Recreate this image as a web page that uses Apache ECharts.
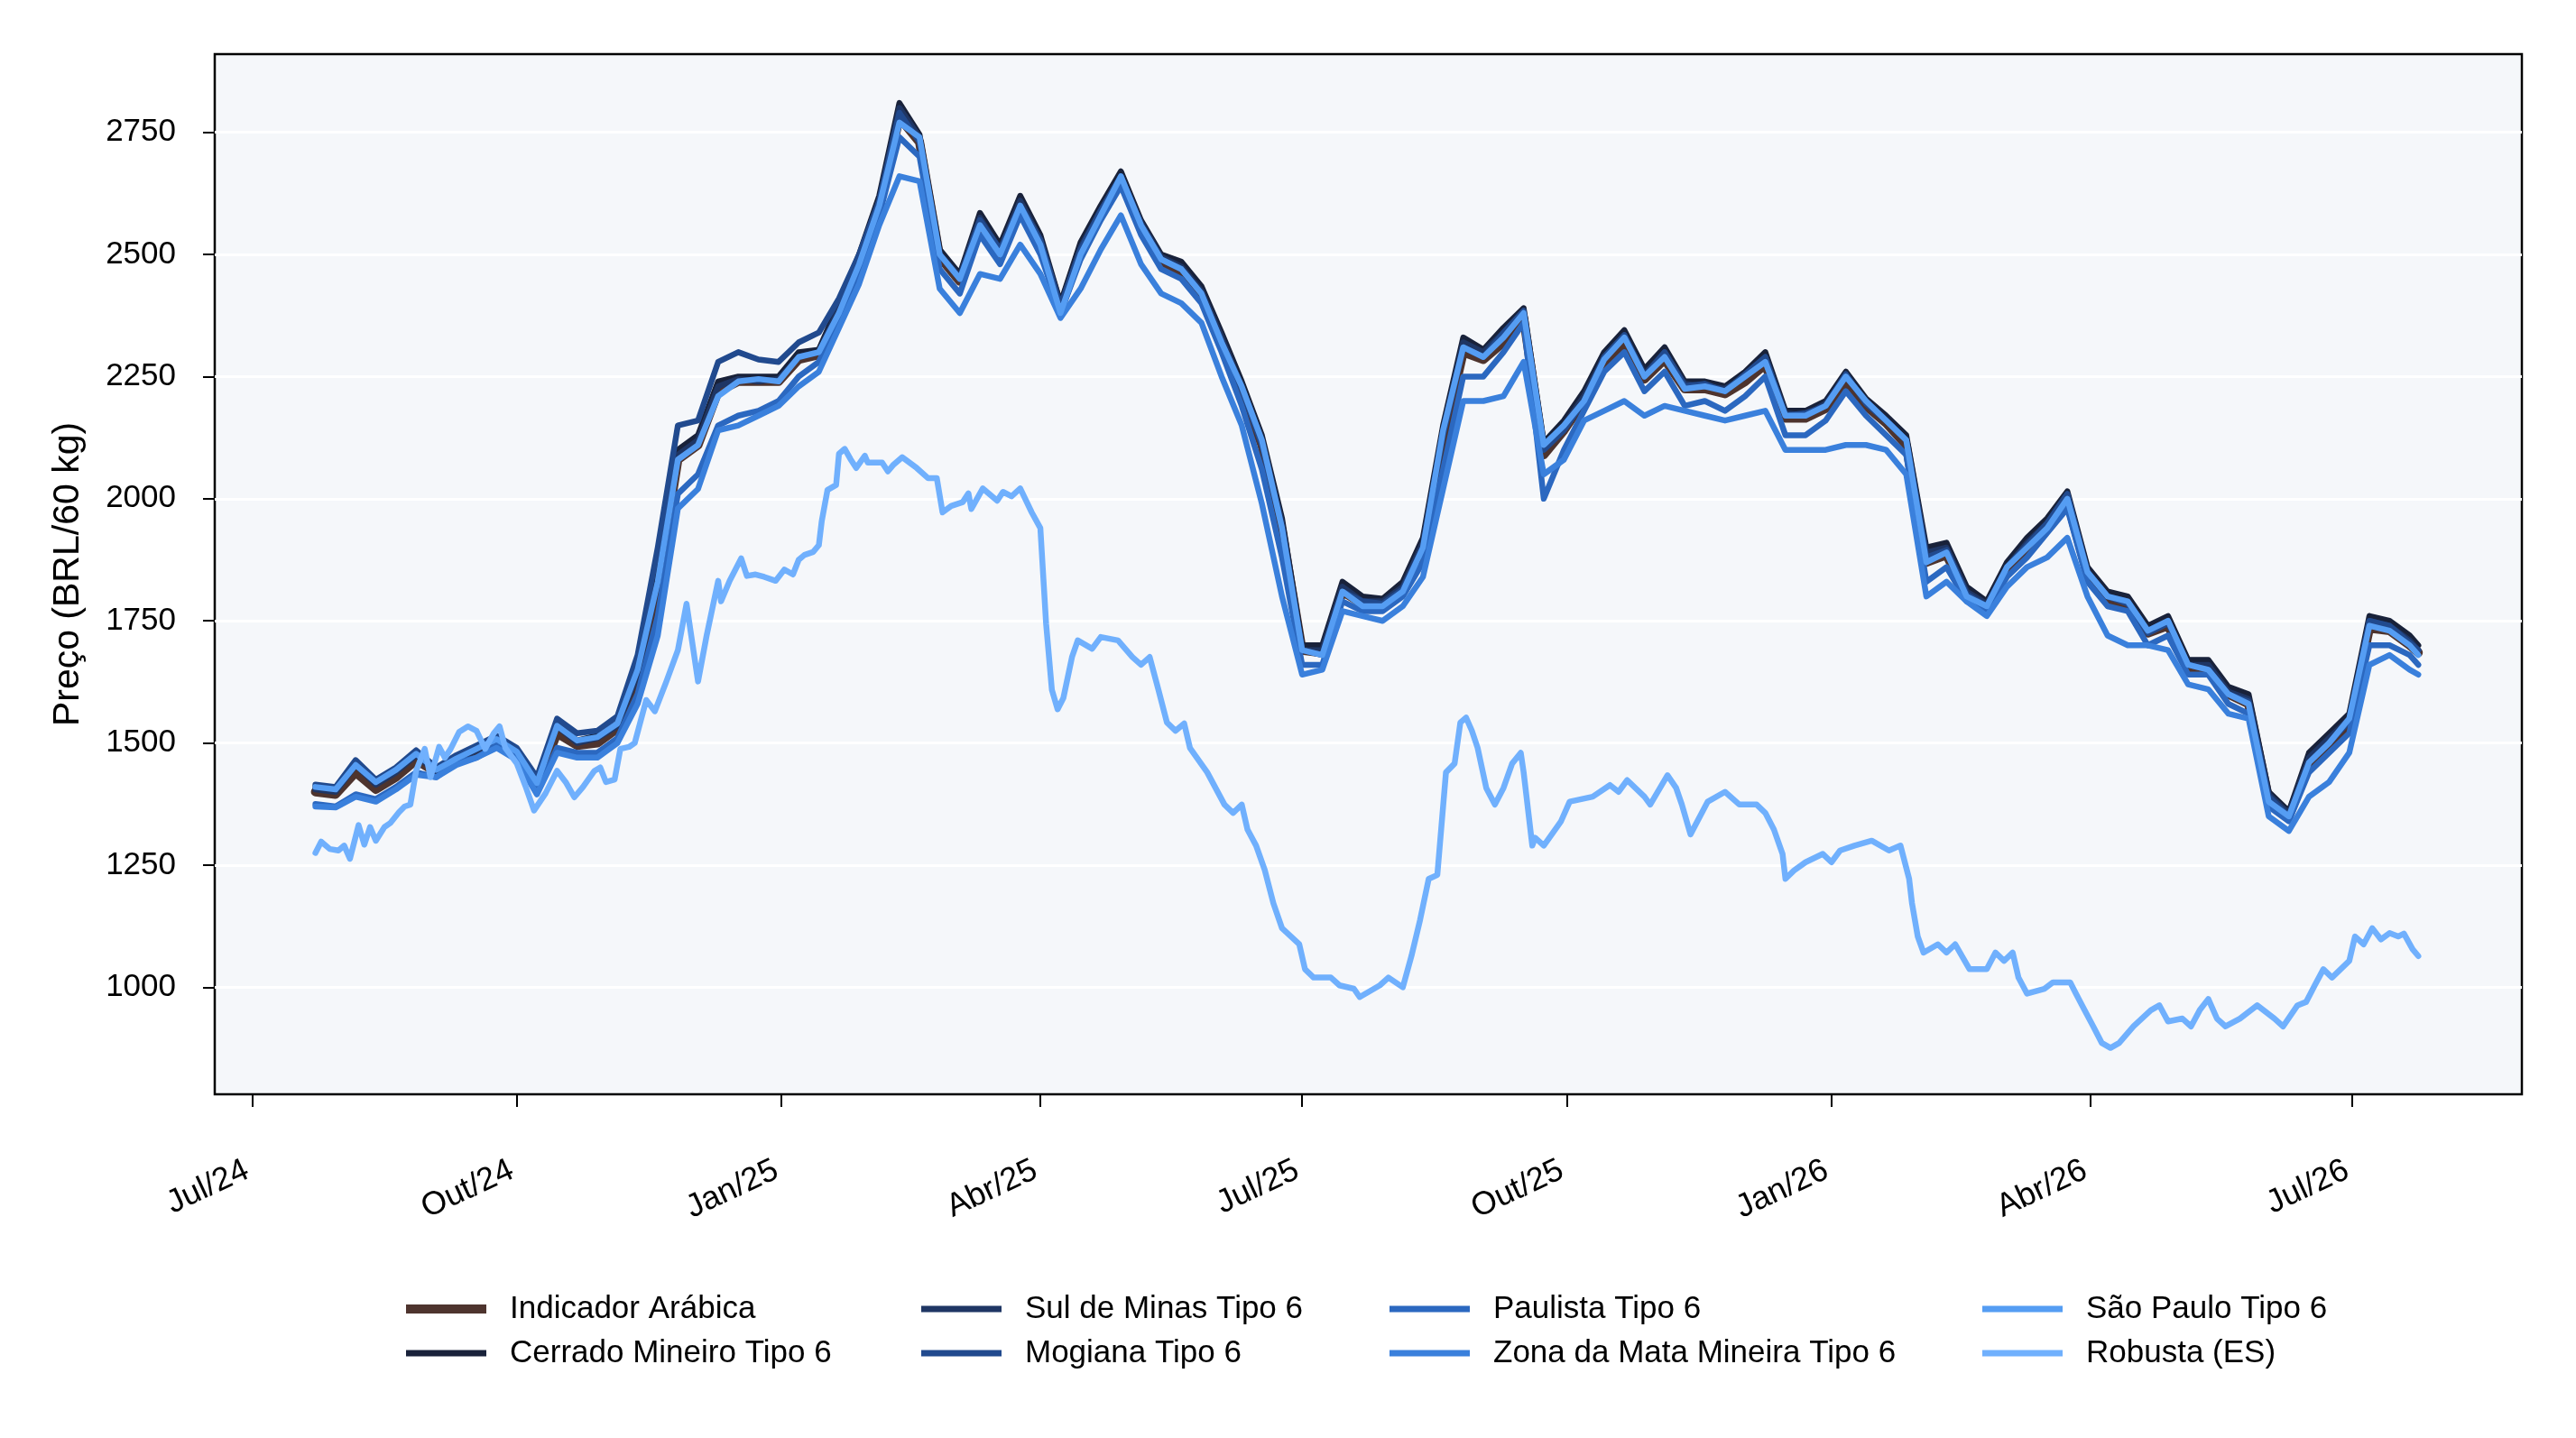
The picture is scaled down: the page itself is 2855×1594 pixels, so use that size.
<!DOCTYPE html>
<html>
<head>
<meta charset="utf-8">
<script src="https://cdn.jsdelivr.net/npm/echarts@6.0.0/dist/echarts.min.js"></script>
<style>
  html, body { margin: 0; padding: 0; background: #fff; }
  #chart { width: 2855px; height: 1594px; }
</style>
</head>
<body>
<div id="chart"></div>
<script>
// semanas (terças) usadas pelas séries de arábica
var weeks = [
  '2024-07-23','2024-07-30','2024-08-06','2024-08-13','2024-08-20','2024-08-27','2024-09-03','2024-09-10','2024-09-17','2024-09-24',
  '2024-10-01','2024-10-08','2024-10-15','2024-10-22','2024-10-29','2024-11-05','2024-11-12','2024-11-19','2024-11-26','2024-12-03',
  '2024-12-10','2024-12-17','2024-12-24','2024-12-31','2025-01-07','2025-01-14','2025-01-21','2025-01-28','2025-02-04','2025-02-11',
  '2025-02-18','2025-02-25','2025-03-04','2025-03-11','2025-03-18','2025-03-25','2025-04-01','2025-04-08','2025-04-15','2025-04-22',
  '2025-04-29','2025-05-06','2025-05-13','2025-05-20','2025-05-27','2025-06-03','2025-06-10','2025-06-17','2025-06-24','2025-07-01',
  '2025-07-08','2025-07-15','2025-07-22','2025-07-29','2025-08-05','2025-08-12','2025-08-19','2025-08-26','2025-09-02','2025-09-09',
  '2025-09-16','2025-09-23','2025-09-30','2025-10-07','2025-10-14','2025-10-21','2025-10-28','2025-11-04','2025-11-11','2025-11-18',
  '2025-11-25','2025-12-02','2025-12-09','2025-12-16','2025-12-23','2025-12-30','2026-01-06','2026-01-13','2026-01-20','2026-01-27',
  '2026-02-03','2026-02-10','2026-02-17','2026-02-24','2026-03-03','2026-03-10','2026-03-17','2026-03-24','2026-03-31','2026-04-07',
  '2026-04-14','2026-04-21','2026-04-28','2026-05-05','2026-05-12','2026-05-19','2026-05-26','2026-06-02','2026-06-09','2026-06-16',
  '2026-06-23','2026-06-30','2026-07-07','2026-07-14','2026-07-21','2026-07-24'
]

var indicador = [
  1400,1395,1440,1405,1430,1465,1440,1462,1482,1502,
  1475,1415,1520,1495,1500,1530,1640,1820,2080,2110,
  2220,2240,2240,2240,2285,2295,2385,2485,2600,2780,
  2730,2495,2445,2555,2500,2595,2520,2390,2505,2585,
  2650,2555,2485,2465,2415,2320,2220,2110,1935,1690,
  1685,1810,1785,1780,1810,1895,2120,2300,2285,2320,
  2370,2090,2140,2200,2275,2320,2245,2285,2225,2225,
  2215,2240,2275,2165,2165,2185,2240,2190,2155,2110,
  1870,1885,1805,1780,1855,1900,1940,1995,1845,1790,
  1780,1725,1740,1655,1650,1600,1580,1385,1350,1455,
  1495,1540,1735,1730,1700,1685
]
var cerrado = [
  1410,1408,1460,1420,1445,1480,1445,1470,1490,1510,
  1480,1425,1540,1505,1515,1540,1650,1840,2100,2130,
  2240,2250,2250,2250,2300,2305,2400,2500,2620,2810,
  2745,2510,2460,2585,2520,2620,2540,2400,2525,2600,
  2670,2570,2500,2485,2435,2340,2240,2130,1960,1700,
  1700,1830,1800,1795,1830,1920,2150,2330,2305,2350,
  2390,2115,2160,2220,2300,2345,2265,2310,2240,2240,
  2230,2260,2300,2180,2180,2200,2260,2205,2170,2130,
  1900,1910,1820,1790,1870,1920,1960,2015,1860,1810,
  1800,1740,1760,1670,1670,1615,1600,1400,1360,1480,
  1520,1560,1760,1750,1720,1700
]
var sulMinas = [
  1405,1400,1455,1415,1440,1475,1440,1465,1485,1505,
  1478,1420,1535,1500,1510,1535,1640,1830,2090,2120,
  2230,2245,2240,2245,2290,2300,2390,2490,2610,2800,
  2740,2500,2455,2575,2510,2610,2530,2390,2515,2590,
  2660,2565,2495,2475,2425,2330,2230,2120,1950,1690,
  1690,1820,1790,1790,1820,1910,2140,2320,2300,2340,
  2380,2110,2150,2210,2290,2335,2255,2300,2235,2230,
  2225,2250,2290,2175,2170,2195,2250,2200,2160,2120,
  1890,1900,1810,1785,1860,1910,1950,2005,1850,1800,
  1790,1730,1750,1660,1660,1605,1590,1395,1355,1470,
  1510,1550,1750,1740,1710,1690
]
var mogiana = [
  1415,1410,1465,1425,1450,1485,1450,1475,1495,1515,
  1490,1430,1550,1520,1525,1555,1680,1900,2150,2160,
  2280,2300,2285,2280,2320,2340,2410,2500,2610,2790,
  2730,2500,2450,2570,2510,2600,2530,2395,2510,2590,
  2660,2560,2490,2470,2420,2320,2225,2110,1940,1690,
  1680,1810,1790,1785,1815,1900,2130,2310,2290,2340,
  2385,2100,2140,2200,2290,2335,2250,2300,2230,2235,
  2220,2255,2290,2170,2175,2190,2255,2195,2160,2120,
  1880,1895,1805,1780,1860,1905,1950,2010,1850,1800,
  1785,1725,1745,1660,1650,1600,1585,1390,1350,1460,
  1500,1545,1750,1740,1705,1690
]
var paulista = [
  1375,1370,1395,1385,1410,1440,1430,1460,1470,1495,
  1470,1400,1490,1480,1480,1510,1600,1760,2010,2050,
  2150,2170,2180,2200,2250,2280,2370,2460,2580,2740,
  2700,2470,2420,2540,2480,2580,2500,2380,2490,2570,
  2640,2540,2470,2450,2400,2300,2190,2060,1880,1660,
  1660,1790,1770,1770,1800,1870,2060,2250,2250,2300,
  2360,2000,2100,2180,2260,2300,2220,2260,2190,2200,
  2180,2210,2250,2130,2130,2160,2220,2170,2130,2090,
  1830,1860,1790,1770,1840,1880,1930,1980,1830,1780,
  1770,1700,1720,1640,1640,1580,1560,1370,1340,1440,
  1480,1520,1700,1700,1680,1660
]
var zonaMata = [
  1370,1368,1390,1380,1405,1435,1430,1455,1470,1490,
  1465,1395,1480,1470,1470,1500,1580,1720,1980,2020,
  2140,2150,2170,2190,2230,2260,2350,2440,2560,2660,
  2650,2430,2380,2460,2450,2520,2460,2370,2430,2510,
  2580,2480,2420,2400,2360,2250,2150,1990,1800,1640,
  1650,1770,1760,1750,1780,1840,2020,2200,2200,2210,
  2280,2050,2080,2160,2180,2200,2170,2190,2180,2170,
  2160,2170,2180,2100,2100,2100,2110,2110,2100,2050,
  1800,1830,1790,1760,1820,1860,1880,1920,1800,1720,
  1700,1700,1690,1620,1610,1560,1550,1350,1320,1390,
  1420,1480,1660,1680,1650,1640
]
var saoPaulo = [
  1410,1405,1455,1420,1445,1478,1445,1468,1488,1508,
  1482,1418,1535,1505,1512,1540,1650,1830,2080,2110,
  2210,2240,2245,2240,2290,2300,2380,2480,2600,2770,
  2740,2500,2450,2560,2500,2600,2520,2380,2500,2580,
  2660,2560,2490,2470,2420,2320,2230,2120,1940,1690,
  1680,1810,1780,1780,1810,1900,2140,2310,2290,2330,
  2380,2110,2150,2200,2285,2330,2250,2290,2225,2230,
  2220,2250,2280,2170,2170,2190,2250,2200,2160,2120,
  1870,1890,1800,1780,1860,1900,1940,2000,1850,1800,
  1790,1730,1750,1660,1650,1600,1580,1380,1350,1460,
  1500,1550,1740,1730,1700,1680
]

// robusta lido com mais pontos (data, preço)
var robusta = [
  ['2024-07-23',1275],['2024-07-25',1298],['2024-07-28',1283],['2024-07-31',1280],['2024-08-02',1290],
  ['2024-08-04',1263],['2024-08-07',1332],['2024-08-09',1292],['2024-08-11',1328],['2024-08-13',1300],
  ['2024-08-16',1328],['2024-08-18',1336],['2024-08-21',1358],['2024-08-23',1370],['2024-08-25',1374],
  ['2024-08-27',1443],['2024-08-30',1488],['2024-09-01',1430],['2024-09-04',1492],['2024-09-06',1470],
  ['2024-09-08',1488],['2024-09-11',1523],['2024-09-14',1534],['2024-09-17',1525],['2024-09-20',1488],
  ['2024-09-23',1520],['2024-09-25',1534],['2024-09-27',1490],['2024-10-01',1458],['2024-10-04',1412],
  ['2024-10-07',1362],['2024-10-11',1397],['2024-10-15',1443],['2024-10-18',1420],['2024-10-21',1389],
  ['2024-10-24',1410],['2024-10-28',1443],['2024-10-30',1450],['2024-11-01',1420],['2024-11-04',1425],
  ['2024-11-06',1488],['2024-11-09',1492],['2024-11-11',1500],['2024-11-15',1588],['2024-11-18',1565],
  ['2024-11-22',1626],['2024-11-26',1690],['2024-11-29',1785],['2024-12-03',1626],['2024-12-06',1720],
  ['2024-12-10',1832],['2024-12-11',1790],['2024-12-14',1832],['2024-12-18',1878],['2024-12-20',1842],
  ['2024-12-23',1845],['2024-12-26',1840],['2024-12-30',1832],['2025-01-02',1855],['2025-01-05',1845],
  ['2025-01-07',1875],['2025-01-09',1885],['2025-01-12',1891],['2025-01-14',1905],['2025-01-15',1954],
  ['2025-01-17',2018],['2025-01-20',2028],['2025-01-21',2092],['2025-01-23',2102],['2025-01-25',2081],
  ['2025-01-27',2063],['2025-01-30',2088],['2025-01-31',2074],['2025-02-05',2074],['2025-02-07',2056],
  ['2025-02-09',2070],['2025-02-12',2085],['2025-02-17',2063],['2025-02-21',2042],['2025-02-24',2042],
  ['2025-02-26',1972],['2025-03-01',1985],['2025-03-05',1993],['2025-03-07',2011],['2025-03-08',1979],
  ['2025-03-12',2021],['2025-03-17',1996],['2025-03-19',2014],['2025-03-22',2005],['2025-03-25',2021],
  ['2025-03-29',1972],['2025-04-01',1940],['2025-04-03',1744],['2025-04-05',1609],['2025-04-07',1569],
  ['2025-04-09',1592],['2025-04-12',1676],['2025-04-14',1710],['2025-04-19',1693],['2025-04-22',1717],
  ['2025-04-28',1710],['2025-05-03',1676],['2025-05-06',1660],['2025-05-09',1676],['2025-05-12',1610],
  ['2025-05-15',1542],['2025-05-18',1525],['2025-05-21',1540],['2025-05-23',1490],['2025-05-29',1440],
  ['2025-06-04',1374],['2025-06-07',1357],['2025-06-10',1374],['2025-06-12',1323],['2025-06-15',1290],
  ['2025-06-18',1240],['2025-06-21',1172],['2025-06-24',1121],['2025-06-30',1088],['2025-07-02',1037],
  ['2025-07-05',1020],['2025-07-11',1020],['2025-07-14',1004],['2025-07-19',997],['2025-07-21',980],
  ['2025-07-28',1004],['2025-07-31',1020],['2025-08-05',1000],['2025-08-08',1064],['2025-08-11',1138],
  ['2025-08-14',1222],['2025-08-17',1230],['2025-08-20',1440],['2025-08-23',1458],['2025-08-25',1542],
  ['2025-08-27',1552],['2025-08-29',1525],['2025-08-31',1490],['2025-09-03',1408],['2025-09-06',1374],
  ['2025-09-09',1408],['2025-09-12',1458],['2025-09-15',1480],['2025-09-16',1440],['2025-09-19',1290],
  ['2025-09-20',1306],['2025-09-23',1290],['2025-09-29',1340],['2025-10-02',1380],['2025-10-10',1390],
  ['2025-10-16',1414],['2025-10-19',1400],['2025-10-22',1424],['2025-10-28',1390],['2025-10-30',1374],
  ['2025-11-05',1434],['2025-11-08',1408],['2025-11-10',1374],['2025-11-13',1313],['2025-11-19',1380],
  ['2025-11-25',1400],['2025-11-30',1374],['2025-12-06',1374],['2025-12-09',1357],['2025-12-12',1323],
  ['2025-12-15',1273],['2025-12-16',1222],['2025-12-19',1239],['2025-12-23',1256],['2025-12-29',1273],
  ['2026-01-01',1256],['2026-01-04',1280],['2026-01-09',1290],['2026-01-15',1300],['2026-01-21',1280],
  ['2026-01-25',1290],['2026-01-28',1222],['2026-01-29',1172],['2026-01-31',1104],['2026-02-02',1071],
  ['2026-02-07',1088],['2026-02-10',1071],['2026-02-13',1088],['2026-02-18',1037],['2026-02-24',1037],
  ['2026-02-27',1071],['2026-03-02',1054],['2026-03-05',1071],['2026-03-07',1020],['2026-03-10',987],
  ['2026-03-16',997],['2026-03-19',1010],['2026-03-25',1010],['2026-03-27',987],['2026-03-30',953],
  ['2026-04-02',920],['2026-04-05',886],['2026-04-08',876],['2026-04-11',886],['2026-04-16',920],
  ['2026-04-22',953],['2026-04-25',963],['2026-04-28',930],['2026-05-03',936],['2026-05-06',920],
  ['2026-05-09',953],['2026-05-12',976],['2026-05-15',936],['2026-05-18',920],['2026-05-23',936],
  ['2026-05-29',963],['2026-06-04',936],['2026-06-07',920],['2026-06-12',963],['2026-06-15',970],
  ['2026-06-18',1004],['2026-06-21',1037],['2026-06-24',1020],['2026-06-30',1054],['2026-07-02',1104],
  ['2026-07-05',1088],['2026-07-08',1121],['2026-07-11',1098],['2026-07-14',1111],['2026-07-17',1104],
  ['2026-07-19',1110],['2026-07-22',1078],['2026-07-24',1064]
]

var yTicks = [1000, 1250, 1500, 1750, 2000, 2250, 2500, 2750]
var xTickDates = ['2024-07-01','2024-10-01','2025-01-01','2025-04-01','2025-07-01','2025-10-01','2026-01-01','2026-04-01','2026-07-01']
var xTickLabels = ['Jul/24','Out/24','Jan/25','Abr/25','Jul/25','Out/25','Jan/26','Abr/26','Jul/26']
var xRange = ['2024-06-18', '2026-08-29']

var FONT = '"Liberation Sans", Arial, Helvetica, sans-serif'

function ts (d) {
  return +echarts.time.parse(d)
}

var xTickValues = xTickDates.map(ts)
var tickLabelMap = {}
xTickValues.forEach(function (v, i) {
  tickLabelMap[v] = xTickLabels[i]
})

function weekly (vals) {
  return weeks.map(function (d, i) { return [ts(d), vals[i]] })
}

var seriesDefs = [
  { name: 'Indicador Arábica', data: weekly(indicador), color: '#4E342E', width: 10 },
  { name: 'Cerrado Mineiro Tipo 6', data: weekly(cerrado), color: '#19223A', width: 6.5 },
  { name: 'Sul de Minas Tipo 6', data: weekly(sulMinas), color: '#1F3664', width: 6.5 },
  { name: 'Mogiana Tipo 6', data: weekly(mogiana), color: '#214A8E', width: 6.5 },
  { name: 'Paulista Tipo 6', data: weekly(paulista), color: '#2B68C0', width: 6.5 },
  { name: 'Zona da Mata Mineira Tipo 6', data: weekly(zonaMata), color: '#3A80DC', width: 6.5 },
  { name: 'São Paulo Tipo 6', data: weekly(saoPaulo), color: '#559DF3', width: 6.5 },
  { name: 'Robusta (ES)', data: robusta.map(function (p) { return [ts(p[0]), p[1]] }), color: '#70B0FD', width: 6.5 }
]

// legenda em 4 colunas (preenchidas por coluna, como no original)
var legendPos = [
  [450, 1431], [450, 1480],
  [1021, 1431], [1021, 1480],
  [1540, 1431], [1540, 1480],
  [2197, 1431], [2197, 1480]
]

var legends = seriesDefs.map(function (s, i) {
  return {
    data: [s.name],
    left: legendPos[i][0],
    top: legendPos[i][1],
    orient: 'vertical',
    padding: 0,
    itemGap: 0,
    itemWidth: 89,
    itemHeight: i === 0 ? 10 : 7,
    icon: 'rect',
    selectedMode: false,
    textStyle: {
      fontFamily: FONT,
      fontSize: 35,
      color: '#000',
      lineHeight: 40,
      padding: [0, 0, 0, 21]
    }
  }
})

var option = {
  backgroundColor: '#ffffff',
  animation: false,
  textStyle: { fontFamily: FONT },
  legend: legends,
  grid: {
    left: 238,
    top: 60,
    right: 60,
    bottom: 381,
    containLabel: false,
    outerBoundsMode: 'none',
    show: true,
    backgroundColor: '#F5F7FA',
    borderColor: '#000',
    borderWidth: 2.5
  },
  xAxis: {
    type: 'value',
    min: ts(xRange[0]),
    max: ts(xRange[1]),
    axisLine: { show: false },
    splitLine: { show: false },
    axisTick: {
      show: true,
      inside: false,
      length: 14,
      customValues: xTickValues,
      lineStyle: { color: '#000', width: 2 }
    },
    axisLabel: {
      customValues: xTickValues,
      rotate: 25,
      margin: 80,
      padding: [0, 6, 0, 0],
      fontFamily: FONT,
      fontSize: 36,
      color: '#000',
      formatter: function (value) {
        return tickLabelMap[value] || ''
      }
    }
  },
  yAxis: {
    type: 'value',
    min: 781,
    max: 2910,
    name: 'Preço (BRL/60 kg)',
    nameLocation: 'middle',
    nameRotate: 90,
    nameGap: 142,
    nameTextStyle: { fontFamily: FONT, fontSize: 41, color: '#000' },
    axisLine: { show: false },
    axisTick: {
      show: true,
      length: 13,
      customValues: yTicks,
      lineStyle: { color: '#000', width: 2 }
    },
    axisLabel: {
      customValues: yTicks,
      margin: 43,
      fontFamily: FONT,
      fontSize: 35,
      color: '#000',
      formatter: function (value) {
        return String(value)
      }
    },
    splitLine: {
      show: true,
      lineStyle: { color: '#ffffff', width: 3 }
    }
  },
  series: seriesDefs.map(function (s) {
    return {
      name: s.name,
      type: 'line',
      data: s.data,
      showSymbol: false,
      symbol: 'none',
      smooth: false,
      color: s.color,
      itemStyle: { color: s.color },
      lineStyle: { color: s.color, width: s.width, join: 'round', cap: 'round' },
      emphasis: { disabled: true }
    }
  })
}

var chart = echarts.init(document.getElementById('chart'), null, { renderer: 'canvas' })
chart.setOption(option)
</script>
</body>
</html>
